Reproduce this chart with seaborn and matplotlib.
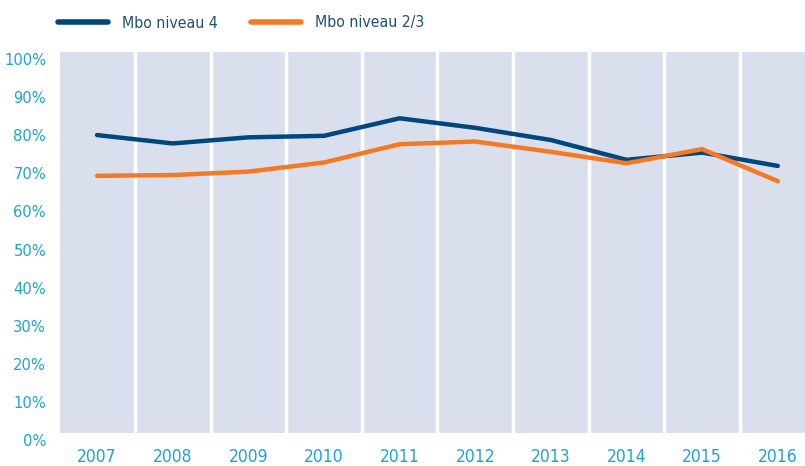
import matplotlib
matplotlib.use("Agg")
import matplotlib.pyplot as plt
import matplotlib.transforms as mtransforms
from matplotlib.lines import Line2D
from matplotlib import font_manager
import seaborn as sns
import pandas as pd
import numpy as np

years = [2007, 2008, 2009, 2010, 2011, 2012, 2013, 2014, 2015, 2016]
niveau4 = [78.2, 76.0, 77.6, 78.0, 82.6, 80.1, 76.9, 71.7, 73.6, 70.1]
niveau23 = [67.5, 67.7, 68.6, 71.0, 75.8, 76.5, 73.8, 70.8, 74.5, 66.1]
series_names = ["Mbo niveau 4", "Mbo niveau 2/3"]
y_ticks = [0, 10, 20, 30, 40, 50, 60, 70, 80, 90, 100]
y_tick_labels = [f"{v}%" for v in y_ticks]

colors = {"Mbo niveau 4": "#00467f", "Mbo niveau 2/3": "#f47920"}
bg = "#d9dfec"
tick_color = "#1ba3dc"
legend_text_color = "#1f4e7d"

sns.set_theme(style="white")
names = {f.name for f in font_manager.fontManager.ttflist}
fam = "Liberation Sans Narrow" if "Liberation Sans Narrow" in names else "DejaVu Sans"
plt.rcParams["font.family"] = [fam, "DejaVu Sans"]
plt.rcParams["font.stretch"] = "condensed"

df = pd.DataFrame({
    "year": years * 2,
    "value": niveau4 + niveau23,
    "series": [series_names[0]] * len(years) + [series_names[1]] * len(years),
})

fig = plt.figure(figsize=(8.05, 4.66), dpi=100)
ax = fig.add_axes([60 / 805, 33 / 466, 745 / 805, 381 / 466])
ax.set_facecolor(bg)

sns.lineplot(data=df, x="year", y="value", hue="series", palette=colors,
             linewidth=3.2, ax=ax, legend=False, solid_capstyle="round")

ax.set_xlim(2006.51, 2016.36)
ax.set_ylim(0, 100)
for y in years[:-1]:
    ax.axvline(y + 0.5, color="white", linewidth=2.5, zorder=1)

for s in ax.spines.values():
    s.set_visible(False)

ax.set_xticks(years)
ax.set_xticklabels([str(y) for y in years])
ax.set_yticks(y_ticks)
ax.set_yticklabels(y_tick_labels)
ax.tick_params(axis="x", length=0, colors=tick_color, labelsize=12.5, pad=11)
ax.tick_params(axis="y", length=0, colors=tick_color, labelsize=11.8, pad=10)
offset = mtransforms.ScaledTranslation(0, -7 / 100, fig.dpi_scale_trans)
for lab in ax.get_yticklabels():
    lab.set_transform(lab.get_transform() + offset)
ax.set_xlabel("")
ax.set_ylabel("")

handles = [Line2D([0], [0], color=colors[n], linewidth=4, solid_capstyle="round") for n in series_names]
leg = fig.legend(handles, series_names, loc="center left", bbox_to_anchor=(58 / 805, 1 - 23 / 466),
                 ncol=2, frameon=False, fontsize=11.3, handlelength=3.2, handletextpad=0.9,
                 columnspacing=2.1, borderaxespad=0, borderpad=0)
for t in leg.get_texts():
    t.set_color(legend_text_color)

fig.savefig("out.png", dpi=100)
